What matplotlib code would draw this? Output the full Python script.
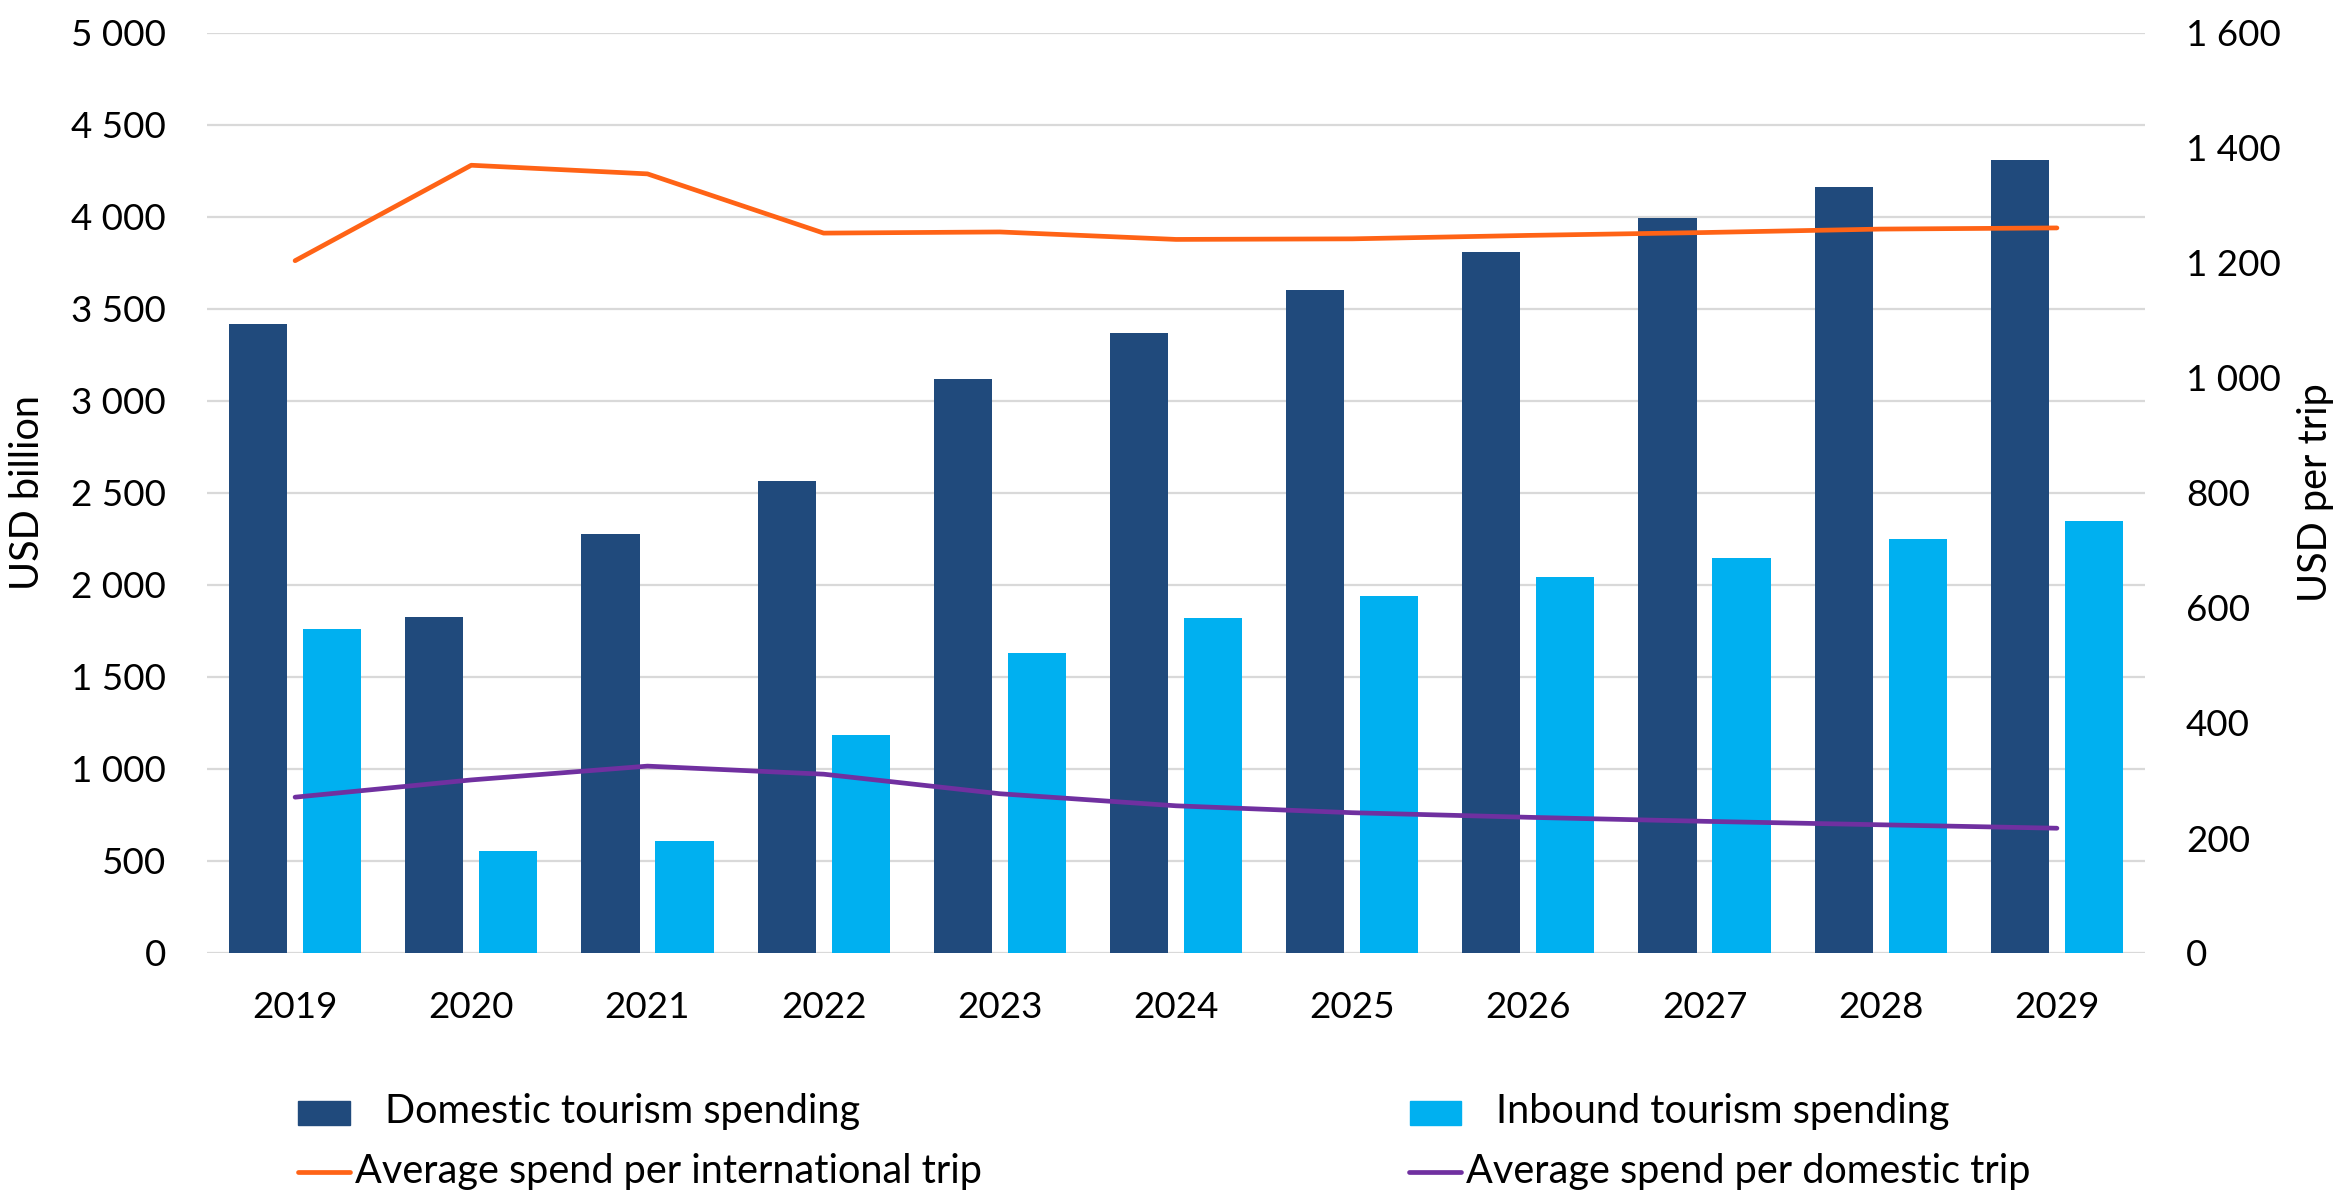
import matplotlib
matplotlib.use("Agg")
import matplotlib.pyplot as plt
import numpy as np
from matplotlib.patches import Rectangle
from matplotlib.lines import Line2D
from matplotlib.ticker import FuncFormatter

years = ["2019", "2020", "2021", "2022", "2023", "2024", "2025", "2026", "2027", "2028", "2029"]
domestic_spending = [3417, 1824, 2279, 2565, 3118, 3371, 3603, 3812, 3995, 4161, 4312]
inbound_spending = [1759, 553, 609, 1183, 1630, 1820, 1940, 2043, 2145, 2250, 2346]
spend_intl_trip = [1204, 1370, 1355, 1252, 1254, 1241, 1242, 1248, 1253, 1259, 1261]
spend_dom_trip = [271, 301, 325, 311, 277, 256, 244, 236, 229, 223, 217]

labels = ["Domestic tourism spending", "Inbound tourism spending",
          "Average spend per international trip", "Average spend per domestic trip"]

C_DOM = "#204A7C"
C_INB = "#00B0F0"
C_INTL = "#FF6316"
C_DTRIP = "#7030A0"
C_GRID = "#D9D9D9"

plt.rcParams['font.family'] = ['Lato', 'DejaVu Sans']
FS_TICK = 26.5
FS_TXT = 28.5
LW = 3.4

W, H = 2335, 1196
fig = plt.figure(figsize=(W / 100, H / 100), dpi=100)
ax = fig.add_axes([207 / W, 1 - 953 / H, (2145 - 207) / W, (953 - 33) / H])

x = np.arange(len(years))
bw = 0.33
off = 0.21
ax.bar(x - off, domestic_spending, width=bw, color=C_DOM, zorder=2)
ax.bar(x + off, inbound_spending, width=bw, color=C_INB, zorder=2)

ax.set_xlim(-0.5, len(years) - 0.5)
ax.set_ylim(0, 5000)
ax.set_yticks(np.arange(0, 5001, 500))
fmt = FuncFormatter(lambda v, p: f"{int(v):,}".replace(",", " "))
ax.yaxis.set_major_formatter(fmt)
ax.set_xticks(x)
ax.set_xticklabels(years)
ax.grid(axis='y', color=C_GRID, linewidth=1.6, zorder=0)
ax.set_axisbelow(True)
for s in ax.spines.values():
    s.set_visible(False)
ax.tick_params(axis='both', length=0, labelsize=FS_TICK)
ax.tick_params(axis='y', pad=29.5)
ax.tick_params(axis='x', pad=27)

ax2 = ax.twinx()
ax2.plot(x, spend_intl_trip, color=C_INTL, linewidth=LW, solid_capstyle='round', zorder=3)
ax2.plot(x, spend_dom_trip, color=C_DTRIP, linewidth=LW, solid_capstyle='round', zorder=3)
ax2.set_ylim(0, 1600)
ax2.set_yticks(np.arange(0, 1601, 200))
ax2.yaxis.set_major_formatter(fmt)
for s in ax2.spines.values():
    s.set_visible(False)
ax2.tick_params(axis='y', length=0, labelsize=FS_TICK, pad=29.5)

fig.text(28 / W, 1 - 493 / H, "USD billion", rotation=90, ha='center', va='center', fontsize=FS_TXT)
fig.text(2316 / W, 1 - 493 / H, "USD per trip", rotation=90, ha='center', va='center', fontsize=FS_TXT)

# legend (Excel-style layout)
def fx(px):
    return px / W

def fy(py):
    return 1 - py / H

fig.patches.append(Rectangle((fx(298), fy(1125)), (350 - 298) / W, 24 / H,
                             transform=fig.transFigure, color=C_DOM))
fig.text(fx(385), fy(1112), labels[0], ha='left', va='center', fontsize=FS_TXT)
fig.patches.append(Rectangle((fx(1410), fy(1125)), (1461 - 1410) / W, 24 / H,
                             transform=fig.transFigure, color=C_INB))
fig.text(fx(1496), fy(1112), labels[1], ha='left', va='center', fontsize=FS_TXT)
fig.lines.append(Line2D([fx(298), fx(350)], [fy(1172), fy(1172)], transform=fig.transFigure,
                        color=C_INTL, linewidth=LW, solid_capstyle='round'))
fig.text(fx(355), fy(1171), labels[2], ha='left', va='center', fontsize=FS_TXT)
fig.lines.append(Line2D([fx(1409), fx(1461)], [fy(1172), fy(1172)], transform=fig.transFigure,
                        color=C_DTRIP, linewidth=LW, solid_capstyle='round'))
fig.text(fx(1466), fy(1171), labels[3], ha='left', va='center', fontsize=FS_TXT)

fig.savefig("out.png", dpi=100)
